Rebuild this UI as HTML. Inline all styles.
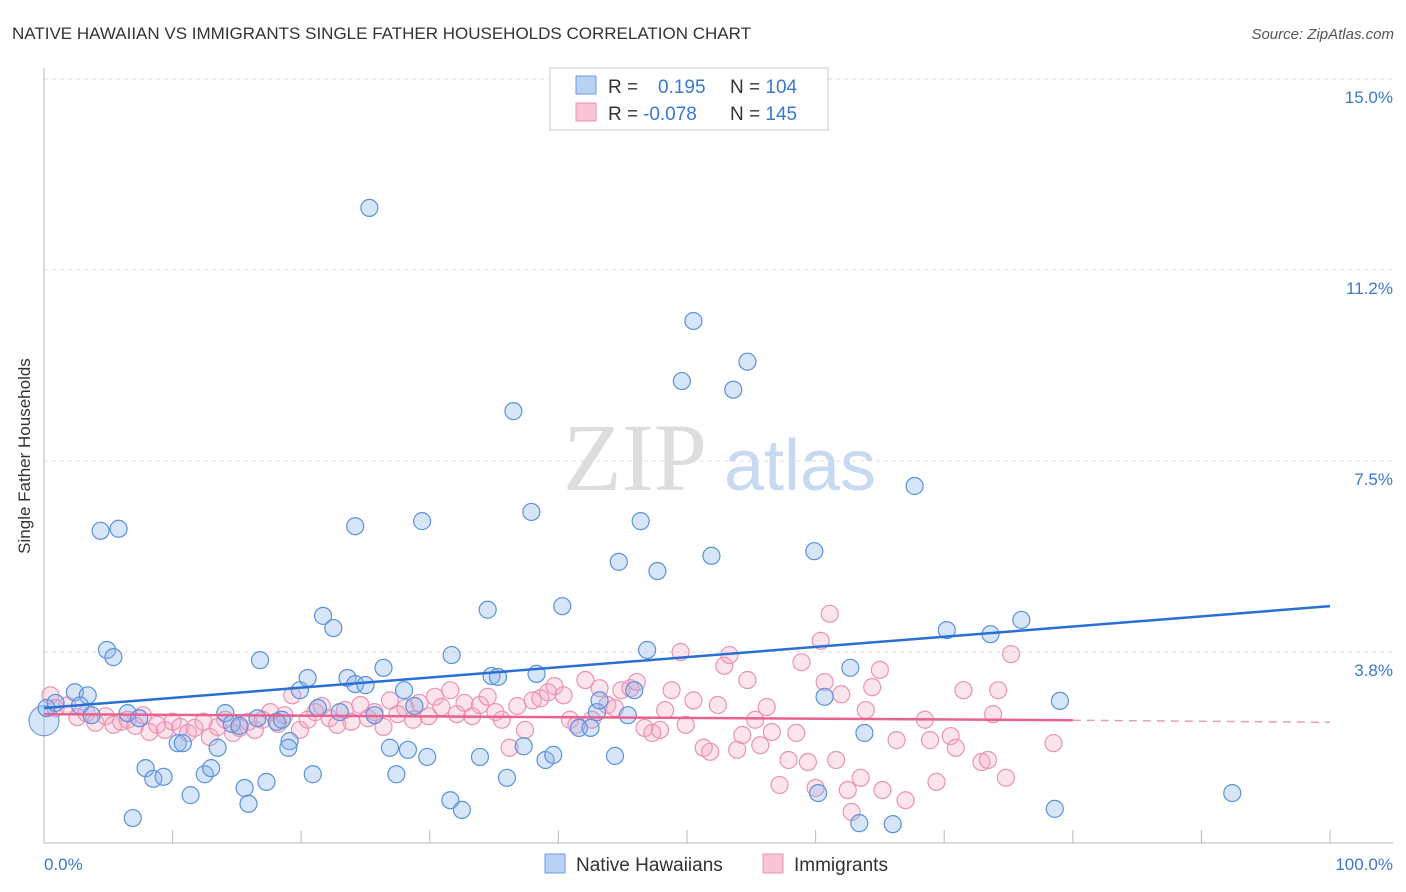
<!DOCTYPE html>
<html><head><meta charset="utf-8"><style>
body{margin:0;background:#fff;font-family:"Liberation Sans",sans-serif}
svg{display:block}
</style></head><body>
<svg id="chart" width="1406" height="892">
<text x="12" y="39" font-size="17" fill="#333">NATIVE HAWAIIAN VS IMMIGRANTS SINGLE FATHER HOUSEHOLDS CORRELATION CHART</text>
<text x="1394" y="39" font-size="15" fill="#555" font-style="italic" text-anchor="end">Source: ZipAtlas.com</text>
<g>
<text x="635" y="490" font-size="96" fill="#ddd" font-family="Liberation Serif,serif" text-anchor="middle">ZIP</text>
<text x="800" y="490" font-size="72" fill="#c8daf2" text-anchor="middle">atlas</text>
</g>
<g id="grid"></g><g id="axes"></g><g id="pink"></g><g id="blue"></g><g id="trends"></g>
<text x="30" y="456" font-size="17" fill="#333" text-anchor="middle" transform="rotate(-90 30 456)">Single Father Households</text>
<text x="44" y="870" font-size="17" fill="#3a78d0">0.0%</text>
<text x="1393" y="870" font-size="17" fill="#3a78d0" text-anchor="end">100.0%</text>
<g>
<rect x="550" y="68" width="278" height="62" fill="#fff" stroke="#ccc"/>
<rect x="576" y="76" width="20" height="18" fill="#b9d2f3" stroke="#6a9ee0"/>
<rect x="576" y="103" width="20" height="18" fill="#f8c6d7" stroke="#ec92b4"/>
<text x="608" y="93" font-size="19" fill="#333">R = <tspan fill="#3a78d0" x="658">0.195</tspan><tspan x="730" fill="#333">N = </tspan><tspan fill="#3a78d0">104</tspan></text>
<text x="608" y="120" font-size="19" fill="#333">R = <tspan fill="#3a78d0" x="643">-0.078</tspan><tspan x="730" fill="#333">N = </tspan><tspan fill="#3a78d0">145</tspan></text>
</g>
<g>
<rect x="545" y="854" width="20" height="19" fill="#b9d2f3" stroke="#6a9ee0"/>
<text x="576" y="871" font-size="19" fill="#333">Native Hawaiians</text>
<rect x="763" y="854" width="20" height="19" fill="#f8c6d7" stroke="#ec92b4"/>
<text x="794" y="871" font-size="19" fill="#333">Immigrants</text>
</g>
</svg>
<script>
const yTicks=[3.75,7.5,11.25,15];
const yTickLabels=["3.8%","7.5%","11.2%","15.0%"];
const xTicks=[0,10,20,30,40,50,60,70,80,90,100];
const blueX=[0.2,0.9,2.4,3.4,2.8,4.4,5.8,4.9,5.4,3.7,6.5,7.4,7.9,8.5,9.3,10.4,10.8,11.4,6.9,12.5,13.0,13.5,14.1,14.6,15.2,15.6,15.9,16.6,16.8,17.3,18.1,18.5,19.1,19.0,19.9,20.5,20.9,21.3,21.7,22.5,23.0,23.6,24.2,24.2,25.0,25.3,25.7,26.4,26.9,27.4,28.0,28.3,28.8,29.4,29.8,31.6,31.7,32.5,33.9,34.5,34.8,35.3,36.0,36.5,37.3,37.9,38.3,39.0,39.6,40.3,41.6,42.5,43.0,43.2,44.4,44.7,45.4,45.9,46.4,46.9,47.7,49.6,50.5,51.9,53.6,54.7,59.9,60.2,60.7,62.7,63.4,63.8,66.0,67.7,70.2,73.6,76.0,78.6,79.0,92.4];
const blueY=[2.65,2.75,2.96,2.9,2.7,6.13,6.17,3.79,3.65,2.51,2.55,2.45,1.47,1.26,1.3,1.96,1.96,0.94,0.49,1.35,1.47,1.87,2.55,2.34,2.3,1.08,0.77,2.45,3.59,1.2,2.38,2.42,2.0,1.87,3.0,3.24,1.35,2.65,4.46,4.22,2.57,3.24,3.12,6.22,3.1,12.47,2.51,3.44,1.87,1.35,3.0,1.83,2.69,6.32,1.69,0.84,3.69,0.65,1.69,4.58,3.28,3.26,1.28,8.48,1.9,6.5,3.32,1.63,1.73,4.65,2.26,2.26,2.57,2.8,1.71,5.52,2.51,3.0,6.32,3.79,5.34,9.07,10.25,5.64,8.9,9.45,5.73,0.98,2.87,3.44,0.39,2.16,0.37,7.01,4.18,4.1,4.38,0.67,2.79,0.98];
const pinkX=[0.5,0.9,1.8,2.6,3.3,4.0,4.8,5.4,6.0,6.5,7.1,7.7,8.2,8.8,9.4,10.0,10.6,11.2,11.7,12.4,12.9,13.5,14.1,14.7,15.2,15.9,16.4,17.0,17.6,18.2,18.7,19.3,19.9,20.5,21.1,21.6,22.2,22.8,23.4,23.9,24.6,25.2,25.7,26.4,26.9,27.5,28.1,28.7,29.2,29.9,30.4,30.9,31.6,32.1,32.7,33.3,33.9,34.5,35.1,35.6,36.2,36.8,37.4,38.0,38.6,39.2,39.7,40.4,40.9,41.4,42.1,42.6,43.2,43.8,44.4,44.9,45.6,46.1,46.7,47.3,47.9,48.3,48.8,49.5,49.9,50.5,51.3,51.8,52.4,52.9,53.3,53.9,54.3,54.7,55.3,55.7,56.2,56.6,57.2,57.9,58.5,58.9,59.4,60.0,60.4,60.7,61.1,61.6,62.0,62.5,62.8,63.5,63.9,64.4,65.0,65.2,66.3,67.0,68.5,68.9,69.4,70.5,70.9,71.5,72.9,73.4,73.8,74.2,74.8,75.2,78.5];
const pinkY=[2.9,2.65,2.7,2.47,2.55,2.36,2.49,2.32,2.38,2.42,2.3,2.51,2.18,2.32,2.22,2.38,2.28,2.16,2.26,2.38,2.08,2.28,2.42,2.16,2.26,2.38,2.22,2.42,2.57,2.34,2.51,2.9,2.22,2.42,2.57,2.69,2.45,2.32,2.61,2.38,2.71,2.45,2.57,2.28,2.8,2.53,2.65,2.42,2.75,2.49,2.87,2.67,3.0,2.53,2.75,2.49,2.71,2.87,2.57,2.42,1.87,2.69,2.22,2.8,2.84,2.96,3.08,2.9,2.42,2.32,3.2,2.42,3.04,2.71,2.65,3.0,3.04,3.16,2.26,2.16,2.22,2.61,3.0,3.75,2.32,2.8,1.87,1.79,2.71,3.48,3.69,1.83,2.12,3.2,2.42,1.92,2.67,2.18,1.14,1.63,2.16,3.55,1.59,1.08,3.97,3.16,4.5,1.63,2.92,1.04,0.61,1.28,2.61,3.06,3.4,1.04,2.02,0.84,2.42,2.02,1.2,2.1,1.87,3.0,1.59,1.63,2.53,3.0,1.28,3.71,1.96];
const blueTrend=[[0,2.65],[100,4.65]];
const pinkTrend=[[0,2.53],[80,2.41]];
const pinkTrendExt=[[80,2.41],[100,2.37]];

const NS="http://www.w3.org/2000/svg";
const X=v=>44+v*12.86;
const Y=v=>843-v*50.93;
function mk(tag,attrs,parent){const e=document.createElementNS(NS,tag);for(const k in attrs)e.setAttribute(k,attrs[k]);parent.appendChild(e);return e;}
const grid=document.getElementById('grid'),axes=document.getElementById('axes');
yTicks.forEach((t,i)=>{
  const l=mk('line',{x1:44,x2:1393,y1:Y(t),y2:Y(t),stroke:'#ddd','stroke-dasharray':'4,4'},grid);
  
  
  const tx=mk('text',{x:1393,y:Y(t)+24,'font-size':17,fill:'#3a78d0','text-anchor':'end'},grid);
  tx.textContent=yTickLabels[i];
  
  
});
const yax=mk('line',{x1:44,x2:44,y1:68,y2:843,stroke:'#bbb'},axes);


const xax=mk('line',{x1:44,x2:1393,y1:843,y2:843,stroke:'#bbb'},axes);


xTicks.forEach(t=>{
  const l=mk('line',{x1:X(t),x2:X(t),y1:830,y2:843,stroke:'#bbb'},axes);
  
  
});
const pg=document.getElementById('pink');
pinkX.forEach((x,i)=>{
  const c=mk('circle',{cx:X(x),cy:Y(pinkY[i]),r:8.5,fill:'rgba(245,165,195,0.3)',stroke:'#ec92b4','stroke-width':1.2},pg);
  
  
});
const bg=document.getElementById('blue');
const big=mk('circle',{cx:X(0),cy:Y(2.4),r:15,fill:'rgba(140,180,235,0.35)',stroke:'#6a9ee0','stroke-width':1.2},bg);


blueX.forEach((x,i)=>{
  const c=mk('circle',{cx:X(x),cy:Y(blueY[i]),r:8.5,fill:'rgba(140,180,235,0.35)',stroke:'#5a92dc','stroke-width':1.2},bg);
  
  
});
const tg=document.getElementById('trends');
const tb=mk('line',{x1:X(blueTrend[0][0]),y1:Y(blueTrend[0][1]),x2:X(blueTrend[1][0]),y2:Y(blueTrend[1][1]),stroke:'#2a6fd6','stroke-width':2.5},tg);


const tp=mk('line',{x1:X(pinkTrend[0][0]),y1:Y(pinkTrend[0][1]),x2:X(pinkTrend[1][0]),y2:Y(pinkTrend[1][1]),stroke:'#e8628f','stroke-width':2.5},tg);


const tpe=mk('line',{x1:X(pinkTrendExt[0][0]),y1:Y(pinkTrendExt[0][1]),x2:X(pinkTrendExt[1][0]),y2:Y(pinkTrendExt[1][1]),stroke:'#e8a0b8','stroke-width':1.5,'stroke-dasharray':'8,6'},tg);


</script>
</body></html>
